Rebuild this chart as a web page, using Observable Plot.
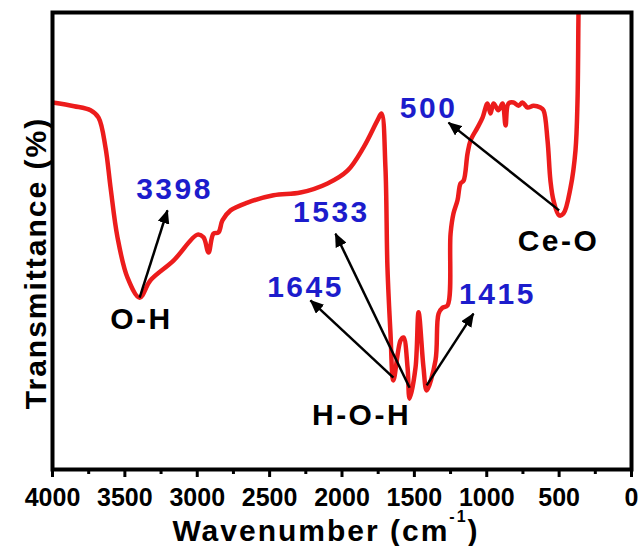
<!DOCTYPE html>
<html>
<head>
<meta charset="utf-8">
<script src="https://cdn.jsdelivr.net/npm/d3@7"></script>
<script src="https://cdn.jsdelivr.net/npm/@observablehq/plot@0.6"></script>
<style>
  html, body { margin: 0; padding: 0; background: #fff; }
  svg { font-family: "Liberation Sans", Arial, sans-serif; }
</style>
</head>
<body>
<div id="chart"></div>
<script>
// FTIR spectrum
const wavenumber = [4000, 3850, 3737, 3682, 3634, 3599, 3551, 3482, 3398, 3323, 3164, 2998, 2957, 2922, 2888, 2853, 2826, 2770, 2653, 2473, 2287, 2100, 1962, 1851, 1755, 1727, 1700, 1686, 1665, 1645, 1596, 1575, 1547, 1533, 1492, 1471, 1437, 1415, 1354, 1333, 1306, 1271, 1250, 1230, 1202, 1181, 1160, 1133, 1112, 1064, 1029, 995, 974, 953, 919, 891, 870, 850, 815, 781, 753, 718, 677, 629, 608, 580, 560, 539, 500, 470, 421, 387, 373, 366, 362];
const transmittance = [80.3, 79.5, 78.6, 77.0, 70.5, 61.7, 50.8, 42.0, 37.6, 41.4, 45.7, 51.4, 50.8, 47.5, 51.6, 51.9, 54.5, 56.7, 58.4, 60.0, 60.6, 62.6, 65.4, 70.5, 76.4, 77.9, 66.1, 44.2, 29.8, 19.5, 28.2, 28.9, 22.3, 15.5, 22.3, 34.4, 22.3, 17.3, 23.9, 34.1, 35.4, 35.9, 51.6, 56.0, 58.9, 62.6, 63.2, 69.1, 72.0, 74.8, 77.0, 80.1, 77.9, 80.1, 78.6, 80.1, 75.3, 80.1, 80.3, 79.6, 80.3, 79.2, 79.6, 79.2, 78.6, 72.0, 63.2, 58.9, 55.6, 56.0, 61.7, 69.8, 80.7, 99.8, 105];

// Band labels (blue numbers) and their arrows
const bandLabels = ["3398", "1645", "1533", "1415", "500"];
const bandLabelX = [3157, 2252, 2073, 926, 1402];
const bandLabelY = [61.3, 39.8, 56.2, 38.3, 79.0];
const arrowFromX = [3398, 1645, 1533, 1415, 500];
const arrowFromY = [37.6, 20.1, 17.9, 18.4, 56.7];
const arrowToX = [3206, 2218, 2045, 1092, 1264];
const arrowToY = [56.7, 37.0, 51.6, 34.1, 75.9];

// Group labels (black)
const groupLabels = ["O-H", "H-O-H", "Ce-O"];
const groupX = [3385, 1865, 504];
const groupY = [32.8, 11.8, 49.9];

const majorTicks = [4000, 3500, 3000, 2500, 2000, 1500, 1000, 500, 0];
const minorTicks = [3750, 3250, 2750, 2250, 1750, 1250, 750, 250];

const spectrum = wavenumber.map((w, i) => ({w, t: transmittance[i]}));
const bands = bandLabels.map((s, i) => ({s, x: bandLabelX[i], y: bandLabelY[i]}));
const arrows = arrowFromX.map((x, i) => ({x1: x, y1: arrowFromY[i], x2: arrowToX[i], y2: arrowToY[i]}));
const groups = groupLabels.map((s, i) => ({s, x: groupX[i], y: groupY[i]}));

const svg = Plot.plot({
  width: 641,
  height: 546,
  marginLeft: 52,
  marginRight: 10,
  marginTop: 12,
  marginBottom: 77,
  x: {domain: [4000, 0]},
  y: {domain: [0, 100], axis: null},
  marks: [
    Plot.line(spectrum, {x: "w", y: "t", stroke: "#ec1c1c", strokeWidth: 4.5, curve: "catmull-rom", clip: true}),
    Plot.link(arrows, {x1: "x1", y1: "y1", x2: "x2", y2: "y2", stroke: "#000", strokeWidth: 2.5}),
    Plot.text(bands, {x: "x", y: "y", text: "s", fill: "#1c1ccc", fontSize: 30, fontWeight: "bold"}),
    Plot.text(groups, {x: "x", y: "y", text: "s", fill: "#000", fontSize: 30, fontWeight: "bold"}),
    Plot.frame({stroke: "#000", strokeWidth: 4}),
    Plot.axisX({ticks: minorTicks, tickSize: 5, tickFormat: () => "", strokeWidth: 3, label: null}),
    Plot.axisX({ticks: majorTicks, tickSize: 8, tickPadding: 11, tickFormat: d => String(d), strokeWidth: 3, fontSize: 25, fontWeight: "bold", fill: "#000", label: null})
  ]
});

const s = d3.select(svg);
s.style("overflow", "visible");
// letter spacing for annotation texts
s.selectAll("g[aria-label='text'] text").style("letter-spacing", "2.5px");

// filled arrowheads on the links
const defs = s.append("defs");
defs.append("marker")
  .attr("id", "ahead")
  .attr("viewBox", "0 0 14 12")
  .attr("refX", 13)
  .attr("refY", 6)
  .attr("markerWidth", 14)
  .attr("markerHeight", 12)
  .attr("markerUnits", "userSpaceOnUse")
  .attr("orient", "auto")
  .append("path")
  .attr("d", "M0,0 L14,6 L0,12 Z")
  .attr("fill", "#000");
s.selectAll("g[aria-label='link'] path").attr("marker-end", "url(#ahead)");

// axis titles
const xt = s.append("text")
  .attr("x", 326).attr("y", 541)
  .attr("text-anchor", "middle")
  .attr("font-size", 30).attr("font-weight", "bold")
  .style("letter-spacing", "2px")
  .attr("fill", "#000");
xt.append("tspan").text("Wavenumber (cm");
xt.append("tspan").attr("font-size", 16).attr("dy", -19).text("-1");
xt.append("tspan").attr("dy", 19).text(")");

s.append("text")
  .attr("transform", "translate(46,263) rotate(-90)")
  .attr("text-anchor", "middle")
  .attr("font-size", 30).attr("font-weight", "bold")
  .style("letter-spacing", "2px")
  .attr("fill", "#000")
  .text("Transmittance (%)");

document.getElementById("chart").appendChild(svg);
</script>
</body>
</html>
